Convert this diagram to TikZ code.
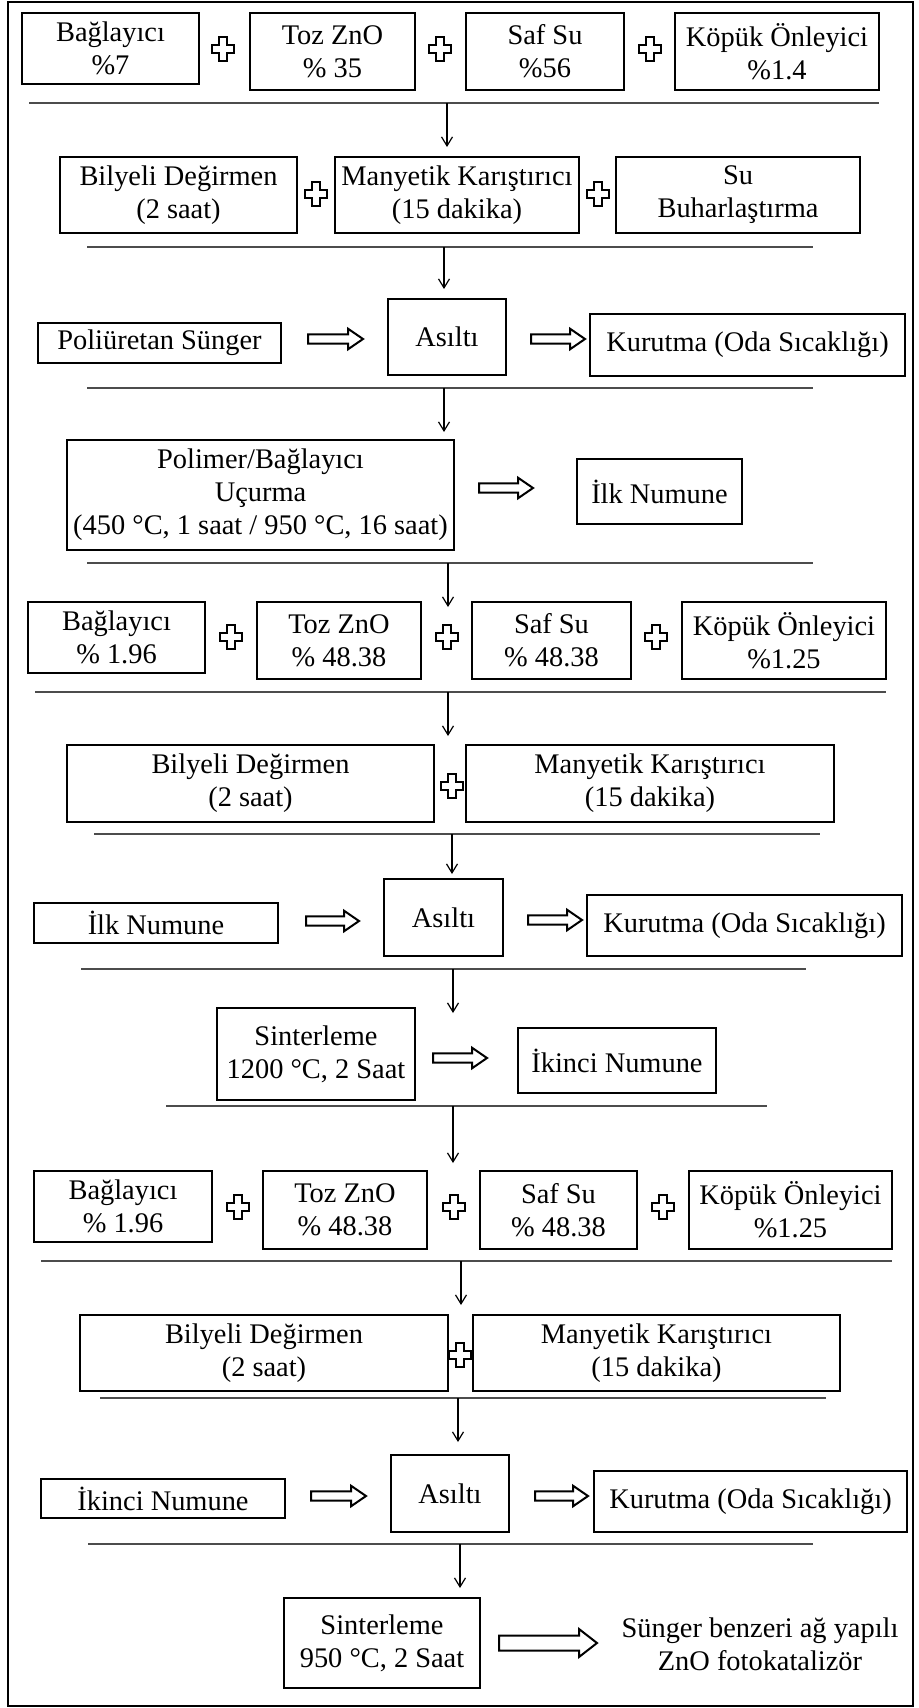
\documentclass[tikz,border=0pt]{standalone}
\usepackage{fontspec}
\setmainfont{Liberation Serif}
\usetikzlibrary{arrows.meta}
\tikzset{
 box/.style={draw, line width=1.15pt, inner sep=0pt, align=center, font=\fontsize{14.2}{16.5}\selectfont},
 plaintext/.style={inner sep=0pt, align=center, font=\fontsize{14.2}{16.5}\selectfont},
 sepline/.style={line width=0.8pt, draw=black!70},
 darr/.style={line width=0.6pt, -{Straight Barb[length=4.5pt,width=5.5pt]}},
 harr/.style={line width=1pt, draw=black, fill=white},
 plussign/.style={line width=1pt, draw=black, fill=white},
 frame/.style={line width=1.2pt, draw=black}
}
\newcommand\bx[6]{\node[box, minimum width={(#4-#2)*0.5pt}, minimum height={(#5-#3)*0.5pt}] (#1) at ({(#2+#4)/2},{(#3+#5)/2}) {#6};}
\newcommand\pls[2]{\draw[plussign] ({#1-4},{#2-12}) -- ({#1+4},{#2-12}) -- ({#1+4},{#2-4}) -- ({#1+11},{#2-4}) -- ({#1+11},{#2+4}) -- ({#1+4},{#2+4}) -- ({#1+4},{#2+12}) -- ({#1-4},{#2+12}) -- ({#1-4},{#2+4}) -- ({#1-11},{#2+4}) -- ({#1-11},{#2-4}) -- ({#1-4},{#2-4}) -- cycle;}
\newcommand\harw[6]{\draw[harr] (#1,{#3-#4}) -- ({#2-#6},{#3-#4}) -- ({#2-#6},{#3-#5}) -- (#2,#3) -- ({#2-#6},{#3+#5}) -- ({#2-#6},{#3+#4}) -- (#1,{#3+#4}) -- cycle;}
\newcommand\dwn[4]{\coordinate (#1s) at (#2,#3); \coordinate (#1e) at (#2,#4); \draw[darr] (#1s) -- (#1e);}
\begin{document}
\begin{tikzpicture}[x=0.5pt,y=-0.5pt]
\useasboundingbox (0,0) rectangle (918,1708);
\draw[frame] (8,2) rectangle (913,1706);

% Row 1
\bx{ra1}{22}{13}{199}{84}{Bağlayıcı\\\%7}
\bx{ra2}{250}{13}{415}{90}{Toz ZnO\\\% 35}
\bx{ra3}{466}{13}{624}{90}{Saf Su\\\%56}
\bx{ra4}{675}{13}{879}{90}{Köpük Önleyici\\\%1.4}
\pls{223}{49}\pls{440}{49}\pls{650}{49}
\draw[sepline] (29,103) -- (879,103);
\dwn{d1}{447}{103}{147}

% Row 2
\bx{rb1}{60}{157}{297}{233}{Bilyeli Değirmen\\(2 saat)}
\bx{rb2}{335}{157}{579}{233}{Manyetik Karıştırıcı\\(15 dakika)}
\bx{rb3}{616}{157}{860}{233}{Su\\Buharlaştırma}
\pls{316}{194}\pls{598}{194}
\draw[sepline] (87,247) -- (813,247);
\dwn{d2}{444}{247}{289}

% Row 3
\bx{rc1}{38}{323}{281}{363}{Poliüretan Sünger}
\bx{rc2}{388}{299}{506}{375}{Asıltı}
\bx{rc3}{590}{314}{905}{376}{Kurutma (Oda Sıcaklığı)}
\harw{308}{363}{339}{4.7}{10.3}{15}
\harw{531}{585}{339}{4.7}{10.3}{15}
\draw[sepline] (87,388) -- (813,388);
\dwn{d3}{444}{388}{432}

% Row 4
\bx{rd1}{67}{440}{454}{550}{Polimer/Bağlayıcı\\Uçurma\\(450 °C, 1 saat / 950 °C, 16 saat)}
\bx{rd2}{577}{459}{742}{524}{İlk Numune}
\harw{479}{533}{488}{4.7}{10.3}{15}
\draw[sepline] (87,563) -- (813,563);
\dwn{d4}{448}{563}{607}

% Row 5
\bx{re1}{28}{602}{205}{673}{Bağlayıcı\\\% 1.96}
\bx{re2}{257}{602}{421}{679}{Toz ZnO\\\% 48.38}
\bx{re3}{472}{602}{631}{679}{Saf Su\\\% 48.38}
\bx{re4}{682}{602}{886}{679}{Köpük Önleyici\\\%1.25}
\pls{231}{637}\pls{447}{637}\pls{656}{637}
\draw[sepline] (35,692) -- (886,692);
\dwn{d5}{448}{692}{736}

% Row 6
\bx{rf1}{67}{745}{434}{822}{Bilyeli Değirmen\\(2 saat)}
\bx{rf2}{466}{745}{834}{822}{Manyetik Karıştırıcı\\(15 dakika)}
\pls{452}{786}
\draw[sepline] (94,834) -- (820,834);
\dwn{d6}{452}{834}{874}

% Row 7
\bx{rg1}{34}{903}{278}{943}{İlk Numune}
\bx{rg2}{384}{879}{503}{956}{Asıltı}
\bx{rg3}{587}{895}{902}{956}{Kurutma (Oda Sıcaklığı)}
\harw{306}{359}{921}{4.7}{10.3}{15}
\harw{528}{582}{920}{4.7}{10.3}{15}
\draw[sepline] (81,969) -- (806,969);
\dwn{d7}{453}{969}{1013}

% Row 8
\bx{rh1}{217}{1008}{415}{1100}{Sinterleme\\1200 °C, 2 Saat}
\bx{rh2}{518}{1028}{716}{1093}{İkinci Numune}
\harw{433}{487}{1058}{4.7}{10.3}{15}
\draw[sepline] (166,1106) -- (767,1106);
\dwn{d8}{453}{1106}{1163}

% Row 9
\bx{ri1}{34}{1171}{212}{1242}{Bağlayıcı\\\% 1.96}
\bx{ri2}{263}{1171}{427}{1249}{Toz ZnO\\\% 48.38}
\bx{ri3}{480}{1171}{637}{1249}{Saf Su\\\% 48.38}
\bx{ri4}{689}{1171}{892}{1249}{Köpük Önleyici\\\%1.25}
\pls{238}{1207}\pls{454}{1207}\pls{663}{1207}
\draw[sepline] (41,1261) -- (892,1261);
\dwn{d9}{461}{1261}{1305}

% Row 10
\bx{rj1}{80}{1315}{448}{1391}{Bilyeli Değirmen\\(2 saat)}
\bx{rj2}{473}{1315}{840}{1391}{Manyetik Karıştırıcı\\(15 dakika)}
\pls{460}{1355}
\draw[sepline] (100,1398) -- (826,1398);
\dwn{d10}{458}{1398}{1442}

% Row 11
\bx{rk1}{41}{1479}{285}{1518}{İkinci Numune}
\bx{rk2}{391}{1455}{509}{1532}{Asıltı}
\bx{rk3}{594}{1471}{907}{1532}{Kurutma (Oda Sıcaklığı)}
\harw{311}{366}{1496}{4.7}{10.3}{15}
\harw{535}{588}{1496}{4.7}{10.3}{15}
\draw[sepline] (88,1544) -- (813,1544);
\dwn{d11}{460}{1544}{1588}

% Row 12
\bx{rl1}{284}{1598}{480}{1688}{Sinterleme\\950 °C, 2 Saat}
\harw{499}{597}{1643}{7.5}{14}{18}
\node[plaintext] (final) at (760,1644) {Sünger benzeri ağ yapılı\\ZnO fotokatalizör};
\end{tikzpicture}
\end{document}
